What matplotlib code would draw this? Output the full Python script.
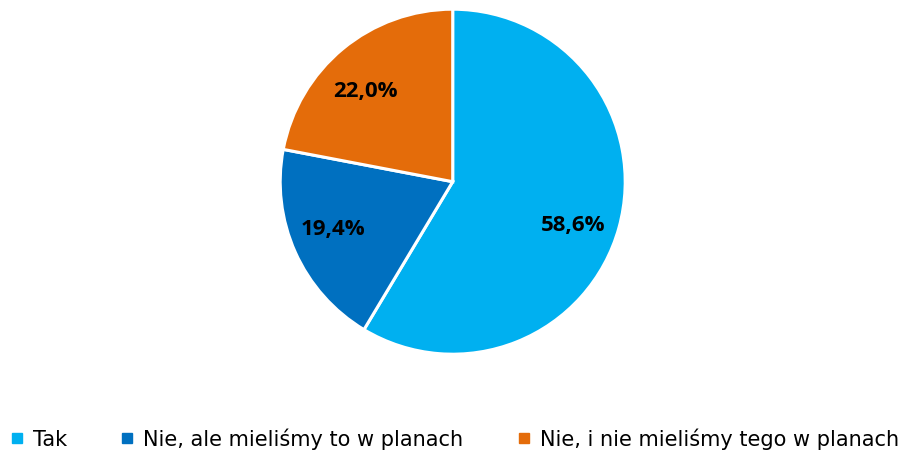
import matplotlib
matplotlib.use("Agg")
import matplotlib.pyplot as plt
import numpy as np
from matplotlib.lines import Line2D

labels = ["Tak", "Nie, ale mieliśmy to w planach", "Nie, i nie mieliśmy tego w planach"]
values = [58.6, 19.4, 22.0]
colors = ["#00B0F0", "#0070C0", "#E46C0A"]
# small nudges (degrees) of the data labels, as excel placed them
label_nudge = [-3.6, -3.5, 3.7]

plt.rcParams['font.family'] = ['Open Sans', 'DejaVu Sans']

fig = plt.figure(figsize=(9.09, 4.53), dpi=100)
ax = fig.add_axes([0, 0, 1, 1])

cx, cy, R = 452.7, 271.3, 172.5
wedges, texts, autotexts = ax.pie(
    values, colors=colors, startangle=90, counterclock=False,
    center=(cx, cy), radius=R, frame=True,
    autopct=lambda p: f"{p:.1f}%".replace(".", ","), pctdistance=0.74,
    wedgeprops=dict(edgecolor="white", linewidth=2.2),
    textprops=dict(fontsize=16, fontweight="bold", color="black"))

for w, t, d in zip(wedges, autotexts, label_nudge):
    ang = np.deg2rad((w.theta1 + w.theta2) / 2 + d)
    t.set_position((cx + 0.74 * R * np.cos(ang), cy + 0.74 * R * np.sin(ang)))
    t.set_va('center_baseline')

ax.set_xlim(0, 909)
ax.set_ylim(0, 453)
ax.set_aspect('equal')
ax.axis('off')

handles = [Line2D([], [], marker='s', linestyle='none', markersize=7,
                  markerfacecolor=c, markeredgecolor=c) for c in colors]
leg = ax.legend(handles, labels, loc='center left', bbox_to_anchor=(8.5 / 909, 14 / 453),
                ncol=3, frameon=False, prop=dict(family='DejaVu Sans', size=15),
                handlelength=0.8, handletextpad=0.37, columnspacing=2.5,
                borderaxespad=0, borderpad=0)

fig.savefig("out.png", dpi=100)
